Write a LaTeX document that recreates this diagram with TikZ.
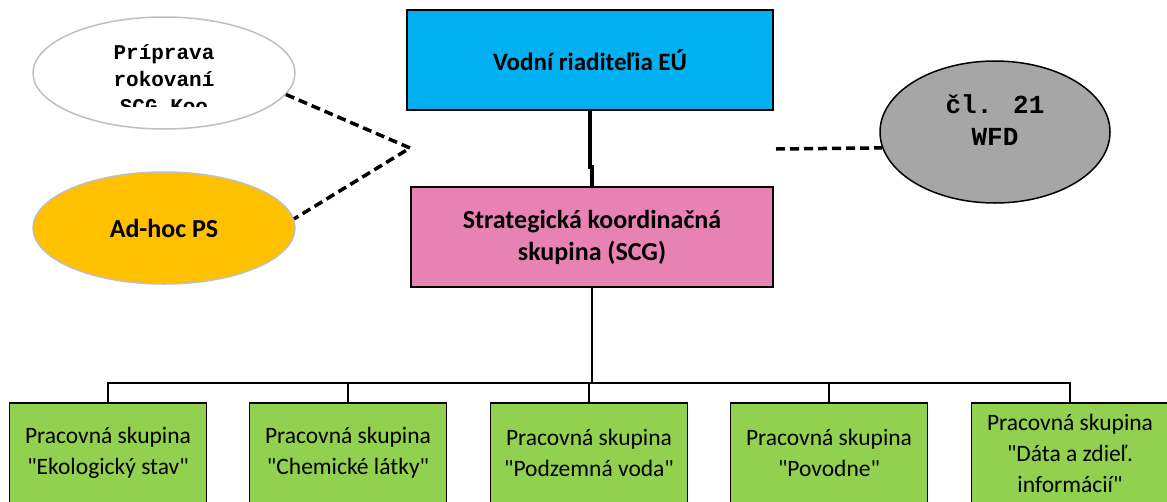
\documentclass[tikz,border=0pt]{standalone}
\usepackage{fontspec}
\setmainfont{Carlito}[Ligatures=TeXOff]
\newfontfamily\ovalfamily{Liberation Mono}
\usetikzlibrary{shapes,positioning}
\definecolor{euBlue}{RGB}{0,176,240}
\definecolor{scgPink}{RGB}{232,130,180}
\definecolor{psGreen}{RGB}{146,208,80}
\definecolor{adhocOrange}{RGB}{255,192,0}
\definecolor{wfdGrey}{RGB}{166,166,166}
\definecolor{rimGrey}{RGB}{191,191,191}
\newcommand{\headfont}{\fontsize{26}{32}\selectfont\bfseries}
\newcommand{\groupfont}{\fontsize{23.5}{31}\selectfont}
\tikzstyle{block} = [rectangle,draw,line width=1.5pt,align=center,inner sep=0pt]
\tikzstyle{group} = [block,fill=psGreen,minimum width=197pt,minimum height=100pt,font=\groupfont]
\tikzstyle{oval} = [ellipse,draw,line width=1.5pt,inner sep=0pt]
\tikzstyle{link} = [draw,line width=3.5pt,dash pattern=on 9pt off 5pt]
\tikzstyle{line} = [draw,line width=2pt]

\begin{document}
\begin{tikzpicture}[x=1pt,y=-1pt]
\useasboundingbox (0,0) rectangle (1167,501);
\clip (0,0) rectangle (1167,501);
% top of the structure
\node[block,fill=euBlue,minimum width=366pt,minimum height=100pt,font=\headfont\fontsize{25}{32}\selectfont] (eu) at (590,60) {Vodní riaditeľia EÚ};
\node[block,fill=scgPink,minimum width=362pt,minimum height=100pt,font=\headfont] (scg) at (592,237) {Strategická koordinačná\\skupina (SCG)};
\coordinate (bend) at (592,167);
\path[line,line width=3.5pt] (eu.south) |- (bend) -- (scg.north);
% side ovals
\node[oval,draw=rimGrey,fill=white,minimum width=262pt,minimum height=112pt] (prep) at (164,73) {};
\begin{scope}
\clip (30,10) rectangle (300,106);
\node[align=center,font=\ovalfamily\bfseries\fontsize{21}{27}\selectfont] (prep-text) at (164,79) {Príprava\\rokovaní\\SCG Koo};
\end{scope}
\node[oval,draw=rimGrey,fill=adhocOrange,minimum width=262pt,minimum height=112pt,font=\headfont] (adhoc) at (164,228) {Ad-hoc PS};
\node[oval,draw=black,fill=wfdGrey,minimum width=230pt,minimum height=142pt,
      label={[align=center,yshift=12pt,font=\ovalfamily\bfseries\fontsize{26}{32}\selectfont]center:čl. 21\\WFD}] (wfd) at (995,132) {};
\coordinate (meet) at (410,148);
\coordinate (tap) at (776,149);
\path[link] (prep.-10) -- (meet) -- (adhoc.4);
\path[link] (tap) -- (wfd.188);
% working groups
\node[group] (ps1) at (108,453) {Pracovná skupina\\"Ekologický stav"};
\node[group] (ps2) at (348,453) {Pracovná skupina\\"Chemické látky"};
\node[group] (ps3) at (589,453) {Pracovná skupina\\"Podzemná voda"};
\node[group] (ps4) at (829,453) {Pracovná skupina\\"Povodne"};
\node[group] (ps5) at (1070,453) {Pracovná skupina\\"Dáta a zdieľ.\\informácií"};
\coordinate (bus) at (592,383);
\path[line] (scg.south) -- (bus);
\path[line] (ps1.north) |- (bus) (ps2.north) |- (bus) (ps3.north) |- (bus)
            (ps4.north) |- (bus) (ps5.north) |- (bus);
\end{tikzpicture}
\end{document}
